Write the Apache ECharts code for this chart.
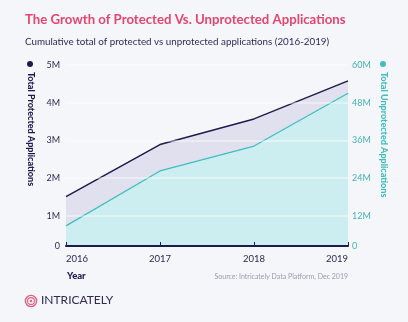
<!DOCTYPE html>
<html>
<head>
<meta charset="utf-8">
<script src="https://cdn.jsdelivr.net/npm/echarts@6/dist/echarts.min.js"></script>
<style>
  html, body { margin: 0; padding: 0; background: #f5f6fa; }
  #chart { width: 408px; height: 322px; }
</style>
</head>
<body>
<div id="chart"></div>
<script>
// Years on the category axis
const years = ['2016', '2017', '2018', '2019'];
// Cumulative totals, in millions
const protectedApps = [1.51, 2.89, 3.57, 4.58];
const unprotectedApps = [8.8, 26.3, 34.2, 51.0];
// Tick values for the two value axes (millions); the lowest tick is labelled "0"
const leftTicks = [0.2, 1, 2, 3, 4, 5];
const rightTicks = [2.4, 12, 24, 36, 48, 60];

const NAVY = '#1d1b4e';
const TEAL = '#3fbdbf';
const FONT = 'Lato, "Open Sans", sans-serif';

const chart = echarts.init(document.getElementById('chart'));

function valueAxis(ticks, color, pos) {
  return {
    type: 'value',
    position: pos,
    min: ticks[0],
    max: ticks[ticks.length - 1],
    z: pos === 'left' ? 4 : 0,
    axisLine: { show: false },
    axisTick: { show: false, customValues: ticks },
    splitLine: { show: pos === 'left', lineStyle: { color: 'rgba(255,255,255,0.5)', width: 1.5 } },
    axisLabel: {
      customValues: ticks,
      color: color,
      fontFamily: FONT,
      fontSize: 9,
      margin: pos === 'left' ? 6 : 4,
      formatter: v => (v === ticks[0] ? '0' : v + 'M')
    }
  };
}

chart.setOption({
  backgroundColor: '#f5f6fa',
  animation: false,
  grid: { left: 66, right: 60, top: 65, bottom: 76 },
  xAxis: {
    type: 'category',
    data: years,
    boundaryGap: false,
    z: 6,
    axisLine: { lineStyle: { color: NAVY, width: 2 } },
    axisTick: { inside: true, length: 4, lineStyle: { color: NAVY, width: 1 } },
    axisLabel: {
      color: '#2a2a55', fontFamily: FONT, fontSize: 9.5, margin: 8,
      alignMinLabel: 'left', alignMaxLabel: 'right'
    }
  },
  yAxis: [
    valueAxis(leftTicks, '#2c2b56', 'left'),
    valueAxis(rightTicks, '#45b3b3', 'right')
  ],
  series: [
    {
      name: 'Total Protected Applications',
      type: 'line',
      yAxisIndex: 0,
      data: protectedApps,
      symbol: 'none',
      lineStyle: { color: NAVY, width: 1.5 },
      areaStyle: { color: '#e1e0ee', opacity: 1 },
      z: 2
    },
    {
      name: 'Total Unprotected Applications',
      type: 'line',
      yAxisIndex: 1,
      data: unprotectedApps,
      symbol: 'none',
      lineStyle: { color: TEAL, width: 1.2 },
      areaStyle: { color: '#cdeef0', opacity: 1 },
      z: 3
    }
  ],
  graphic: [
    {
      type: 'text', left: 25, top: 13,
      style: { text: 'The Growth of Protected Vs. Unprotected Applications',
        fill: '#e5466d', font: 'bold 13.2px ' + FONT }
    },
    {
      type: 'text', left: 25, top: 37,
      style: { text: 'Cumulative total of protected vs unprotected applications (2016-2019)',
        fill: '#2c2b56', font: '9.8px ' + FONT }
    },
    { type: 'circle', shape: { cx: 30, cy: 64, r: 3 }, style: { fill: NAVY } },
    {
      type: 'text', x: 26, y: 72, rotation: -Math.PI / 2,
      style: { text: 'Total Protected Applications', fill: NAVY,
        font: '900 9px ' + FONT, textAlign: 'left', textVerticalAlign: 'bottom' }
    },
    { type: 'circle', shape: { cx: 383, cy: 64, r: 3 }, style: { fill: TEAL } },
    {
      type: 'text', x: 379, y: 72, rotation: -Math.PI / 2,
      style: { text: 'Total Unprotected Applications', fill: TEAL,
        font: '900 9px ' + FONT, textAlign: 'left', textVerticalAlign: 'bottom' }
    },
    {
      type: 'text', left: 67, top: 271,
      style: { text: 'Year', fill: NAVY, font: '900 9.5px ' + FONT }
    },
    {
      type: 'text', right: 60, top: 273,
      style: { text: 'Source: Intricately Data Platform, Dec 2019', fill: '#9a9aae', font: '7px ' + FONT }
    },
    { type: 'circle', shape: { cx: 31, cy: 301, r: 5.6 }, style: { fill: 'none', stroke: '#e0607e', lineWidth: 1.4 } },
    { type: 'circle', shape: { cx: 31, cy: 301, r: 3.4 }, style: { fill: 'none', stroke: '#e0607e', lineWidth: 1.1 } },
    { type: 'circle', shape: { cx: 31, cy: 301, r: 1.3 }, style: { fill: '#e0607e' } },
    {
      type: 'text', left: 41, top: 294,
      style: { text: 'INTRICATELY', fill: '#2c2b56', font: '12px ' + FONT, letterSpacing: 1.5 }
    }
  ]
});
</script>
</body>
</html>
